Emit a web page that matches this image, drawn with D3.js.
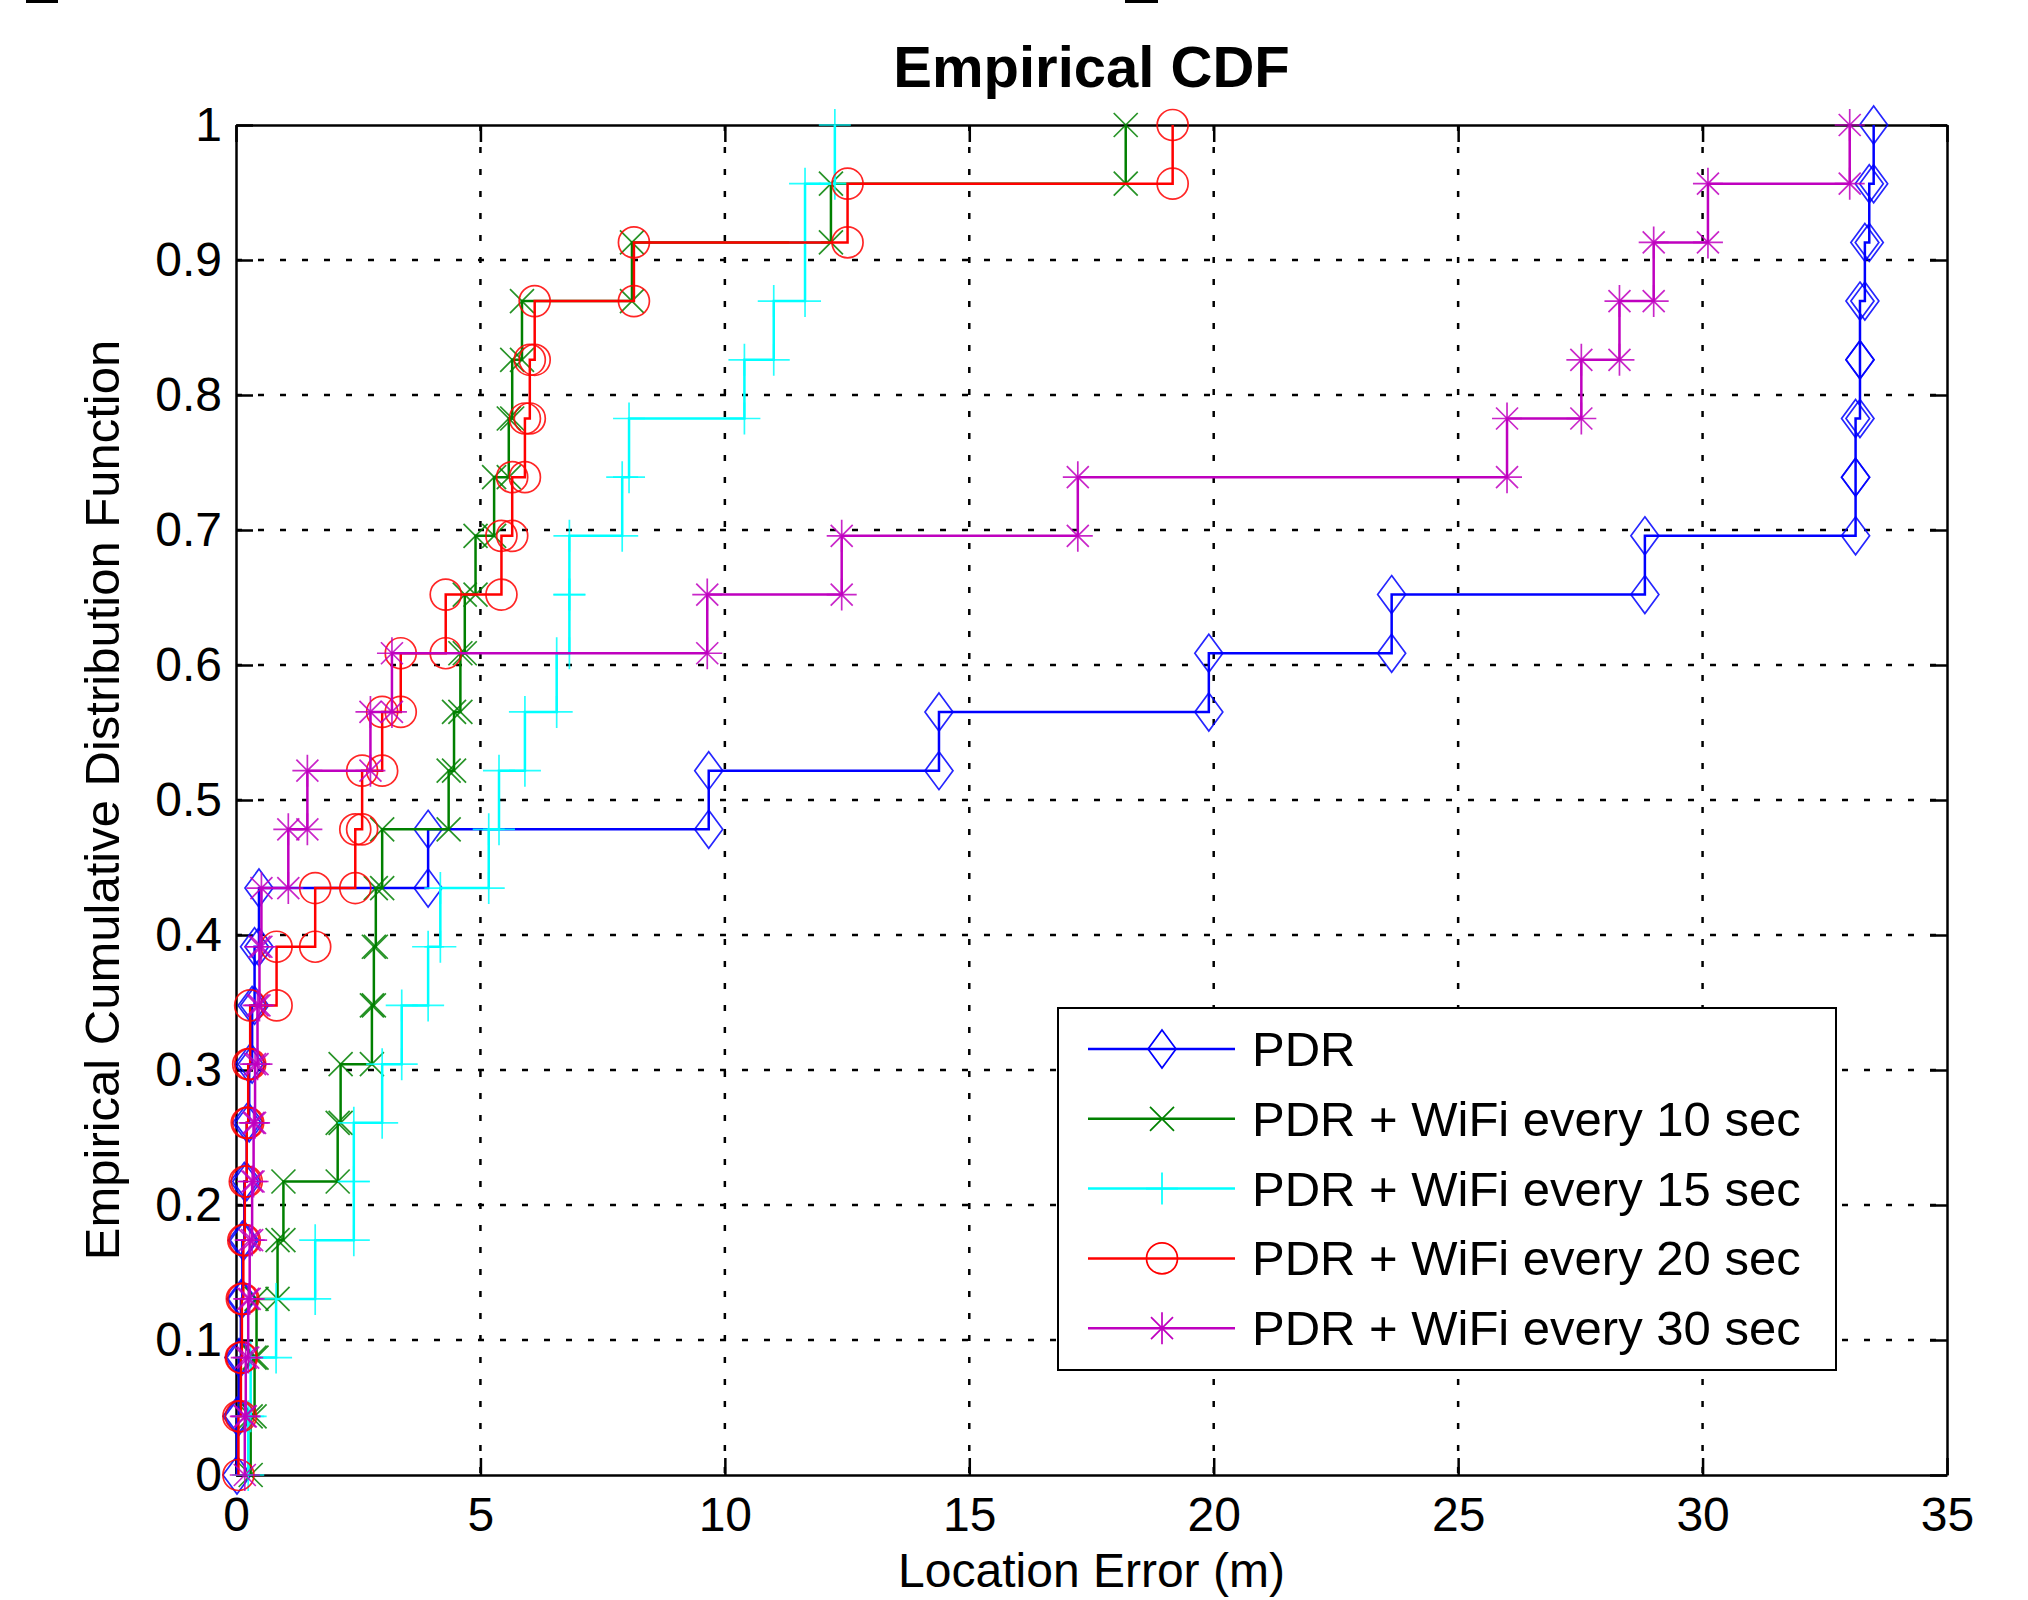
<!DOCTYPE html>
<html>
<head>
<meta charset="utf-8">
<title>Empirical CDF</title>
<script src="https://d3js.org/d3.v7.min.js"></script>
<style>
  body { margin: 0; background: #fff; }
  text { font-family: Arial, "Liberation Sans", Helvetica, sans-serif; fill: #000; }
</style>
</head>
<body>
<svg width="2028" height="1600"></svg>
<script>
// sorted location errors (m), 23 samples per run
var pdr    = [0.02, 0.06, 0.10, 0.13, 0.17, 0.22, 0.27, 0.33, 0.38, 0.47, 3.93, 9.67, 14.38, 19.90, 23.64, 28.82, 33.13, 33.13, 33.22, 33.22, 33.32, 33.41, 33.50];
var wifi10 = [0.30, 0.38, 0.42, 0.85, 0.97, 2.08, 2.14, 2.78, 2.82, 2.86, 2.99, 4.35, 4.46, 4.59, 4.68, 4.90, 5.28, 5.58, 5.65, 5.85, 8.10, 12.17, 18.20];
var wifi15 = [0.25, 0.30, 0.82, 1.62, 2.41, 2.41, 2.99, 3.39, 3.93, 4.18, 5.17, 5.38, 5.91, 6.56, 6.82, 6.82, 7.90, 8.04, 10.40, 11.00, 11.64, 11.64, 12.25];
var wifi20 = [0.05, 0.10, 0.12, 0.15, 0.18, 0.22, 0.25, 0.29, 0.83, 1.62, 2.44, 2.58, 2.99, 3.37, 4.29, 5.43, 5.65, 5.91, 6.01, 6.11, 8.14, 12.51, 19.16];
var wifi30 = [0.18, 0.20, 0.25, 0.28, 0.33, 0.36, 0.39, 0.44, 0.48, 0.52, 1.07, 1.46, 2.75, 3.19, 9.64, 12.39, 17.22, 26.00, 27.52, 28.30, 29.00, 30.11, 33.01];

var seriesNames = ["PDR", "PDR + WiFi every 10 sec", "PDR + WiFi every 15 sec", "PDR + WiFi every 20 sec", "PDR + WiFi every 30 sec"];
var seriesData = [pdr, wifi10, wifi15, wifi20, wifi30];
var seriesColors = ["#0000ff", "#008000", "#00ffff", "#ff0000", "#bf00bf"];
var seriesMarkers = ["diamond", "x", "plus", "circle", "star"];

var xTicks = [0, 5, 10, 15, 20, 25, 30, 35];
var yTicks = [0, 0.1, 0.2, 0.3, 0.4, 0.5, 0.6, 0.7, 0.8, 0.9, 1];

var width = 2028, height = 1600;
var margin = {top: 125, right: 81, bottom: 125, left: 236};

var svg = d3.select("svg");

var x = d3.scaleLinear().domain([0, 35]).range([margin.left, width - margin.right]);
var y = d3.scaleLinear().domain([0, 1]).range([height - margin.bottom, margin.top]);

// marker shapes
var markerPaths = {
    diamond: "M0,-19L14,0L0,19L-14,0Z",
    x: "M-12,-12L12,12M-12,12L12,-12",
    plus: "M-16,0L16,0M0,-16L0,16",
    circle: "M-15.5,0A15.5,15.5 0 1,0 15.5,0A15.5,15.5 0 1,0 -15.5,0",
    star: "M-15,0L15,0M0,-16L0,16M-11,-11L11,11M-11,11L11,-11"
};

// grid
var grid = svg.append("g").attr("stroke", "#000").attr("stroke-width", 2.5)
    .attr("stroke-dasharray", "6,16");
grid.selectAll("line.gx")
    .data(xTicks.filter(function(d) { return d > 0 && d < 35; }))
    .enter().append("line")
    .attr("x1", function(d) { return x(d); })
    .attr("x2", function(d) { return x(d); })
    .attr("y1", y(1)).attr("y2", y(0));
grid.selectAll("line.gy")
    .data(yTicks.filter(function(d) { return d > 0 && d < 1; }))
    .enter().append("line")
    .attr("y1", function(d) { return y(d); })
    .attr("y2", function(d) { return y(d); })
    .attr("x1", x(0)).attr("x2", x(35));

// axes (ticks pointing inward on all four sides)
function styleAxis(g) {
    g.selectAll("path.domain").attr("stroke", "#000").attr("stroke-width", 2.5);
    g.selectAll(".tick line").attr("stroke", "#000").attr("stroke-width", 2.5);
    g.selectAll(".tick text").style("font-size", "48px").attr("fill", "#000");
}

svg.append("g")
    .attr("transform", "translate(0," + y(0) + ")")
    .call(d3.axisBottom(x).tickValues(xTicks).tickSize(-17).tickSizeOuter(0).tickPadding(22)
        .tickFormat(d3.format("d")))
    .call(styleAxis);

svg.append("g")
    .attr("transform", "translate(0," + y(1) + ")")
    .call(d3.axisTop(x).tickValues(xTicks).tickSize(-17).tickSizeOuter(0).tickFormat(""))
    .call(styleAxis);

svg.append("g")
    .attr("transform", "translate(" + x(0) + ",0)")
    .call(d3.axisLeft(y).tickValues(yTicks).tickSize(-17).tickSizeOuter(0).tickPadding(14)
        .tickFormat(function(d) { return d3.format("~g")(d); }))
    .call(styleAxis);

svg.append("g")
    .attr("transform", "translate(" + x(35) + ",0)")
    .call(d3.axisRight(y).tickValues(yTicks).tickSize(-17).tickSizeOuter(0).tickFormat(""))
    .call(styleAxis);

// empirical CDF stairs: vertices (x_i, (i-1)/n) and (x_i, i/n)
function stairPoints(xs) {
    var n = xs.length, pts = [];
    xs.forEach(function(v, i) {
        pts.push([v, i / n]);
        pts.push([v, (i + 1) / n]);
    });
    return pts;
}

var line = d3.line()
    .x(function(d) { return x(d[0]); })
    .y(function(d) { return y(d[1]); });

seriesData.forEach(function(xs, s) {
    var pts = stairPoints(xs);
    var g = svg.append("g");
    g.append("path")
        .attr("d", line(pts))
        .attr("fill", "none")
        .attr("stroke", seriesColors[s])
        .attr("stroke-width", 2.5);
    g.selectAll("path.mk")
        .data(pts)
        .enter().append("path")
        .attr("class", "mk")
        .attr("d", markerPaths[seriesMarkers[s]])
        .attr("transform", function(d) { return "translate(" + x(d[0]) + "," + y(d[1]) + ")"; })
        .attr("fill", "none")
        .attr("stroke", seriesColors[s])
        .attr("stroke-width", 1.7)
        .attr("opacity", 0.85);
});

// legend
var legend = svg.append("g");
legend.append("rect")
    .attr("x", 1058).attr("y", 1008)
    .attr("width", 778).attr("height", 362)
    .attr("fill", "#fff").attr("stroke", "#000").attr("stroke-width", 2);

seriesNames.forEach(function(name, i) {
    var cy = 1049 + i * 69.8;
    legend.append("line")
        .attr("x1", 1088).attr("x2", 1235)
        .attr("y1", cy).attr("y2", cy)
        .attr("stroke", seriesColors[i]).attr("stroke-width", 2.5);
    legend.append("path")
        .attr("d", markerPaths[seriesMarkers[i]])
        .attr("transform", "translate(1162," + cy + ")")
        .attr("fill", "none")
        .attr("stroke", seriesColors[i]).attr("stroke-width", 1.7);
    legend.append("text")
        .attr("x", 1252).attr("y", cy + 17)
        .style("font-size", "49px")
        .text(name);
});

// titles
svg.append("text")
    .attr("x", (x(0) + x(35)) / 2).attr("y", 87)
    .attr("text-anchor", "middle")
    .style("font-size", "58px").style("font-weight", "bold")
    .text("Empirical CDF");

svg.append("text")
    .attr("x", (x(0) + x(35)) / 2).attr("y", 1587)
    .attr("text-anchor", "middle")
    .style("font-size", "48px")
    .text("Location Error (m)");

svg.append("text")
    .attr("transform", "translate(119," + (y(0) + y(1)) / 2 + ") rotate(-90)")
    .attr("text-anchor", "middle")
    .style("font-size", "49px")
    .text("Empirical Cumulative Distribution Function");

// small crop remnants at the top edge
svg.append("rect").attr("x", 26).attr("y", 0).attr("width", 32).attr("height", 3).attr("fill", "#000");
svg.append("rect").attr("x", 1125).attr("y", 0).attr("width", 33).attr("height", 3).attr("fill", "#000");
</script>
</body>
</html>
